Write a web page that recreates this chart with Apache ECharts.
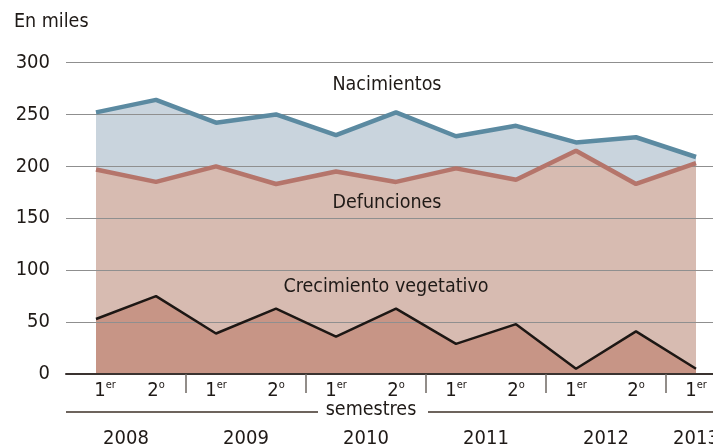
<!DOCTYPE html>
<html>
<head>
<meta charset="utf-8">
<script src="https://cdn.jsdelivr.net/npm/echarts@6/dist/echarts.min.js"></script>
<style>
html,body{margin:0;padding:0;background:#fff;}
#chart{width:713px;height:446px;}
</style>
</head>
<body>
<div id="chart"></div>
<script>
const semesters = ['1er','2º','1er','2º','1er','2º','1er','2º','1er','2º','1er'];
const years = ['2008','2009','2010','2011','2012','2013'];
const yearPositions = [0.5, 2.5, 4.5, 6.5, 8.5, 10];
const yTicks = [0, 50, 100, 150, 200, 250, 300];
const nacimientos = [252, 264, 242, 250, 230, 252, 229, 239, 223, 228, 209];
const defunciones = [197, 185, 200, 183, 195, 185, 198, 187, 215, 183, 203];
const crecimiento = [53, 75, 39, 63, 36, 63, 29, 48, 5, 41, 5];

const FONT = '"DejaVu Sans Condensed", "DejaVu Sans", sans-serif';
const TXT = '#1f1a17';
const WORD = '19.5px ' + FONT;

const chart = echarts.init(document.getElementById('chart'), null, {renderer: 'canvas'});

function areaSeries(name, data, color) {
  return {
    name: name, type: 'line', data: data, symbol: 'none', z: 1,
    lineStyle: {width: 0}, areaStyle: {color: color, opacity: 1},
    silent: true, animation: false
  };
}
function lineSeries(name, data, color, width) {
  return {
    name: name, type: 'line', data: data, symbol: 'none', z: 3,
    lineStyle: {width: width, color: color}, silent: true, animation: false
  };
}

chart.setOption({
  animation: false,
  grid: {left: 66, top: 62.5, right: -13, bottom: 72, outerBoundsMode: 'none', containLabel: false},
  xAxis: [{
    type: 'category', data: semesters, boundaryGap: true, position: 'bottom', z: 4,
    axisLine: {show: true, lineStyle: {color: '#3a3330', width: 2}},
    axisTick: {show: true, length: 19, interval: function (i) { return i > 0 && i % 2 === 0; },
      lineStyle: {color: '#6f6863', width: 1.5}},
    axisLabel: {
      interval: 0, margin: 6,
      formatter: function (v, i) {
        const suf = v.slice(1) === 'º' ? 'o' : v.slice(1);
        return (i === 0 ? '{p|}' : '') + '{n|' + v.charAt(0) + '}{s|' + suf + '}';
      },
      rich: {
        p: {width: 18},
        n: {fontFamily: FONT, fontSize: 20, lineHeight: 22, color: TXT},
        s: {fontFamily: FONT, fontSize: 11, lineHeight: 13, verticalAlign: 'top', color: TXT}
      }
    },
    splitLine: {show: false}
  }, {
    type: 'value', min: -0.5, max: 10.5, position: 'bottom', z: 4,
    axisLine: {show: false}, axisTick: {show: false}, splitLine: {show: false},
    axisLabel: {
      customValues: yearPositions, margin: 55,
      formatter: function (v) { return years[yearPositions.indexOf(v)]; },
      fontFamily: FONT, fontSize: 20, lineHeight: 20, color: TXT
    }
  }],
  yAxis: {
    type: 'value', min: yTicks[0], max: yTicks[yTicks.length - 1], interval: yTicks[1] - yTicks[0], z: 2,
    axisLine: {show: false}, axisTick: {show: false},
    axisLabel: {margin: 16, fontFamily: FONT, fontSize: 20, color: TXT},
    splitLine: {lineStyle: {color: '#8f8f8f', width: 1}}
  },
  series: [
    areaSeries('Nacimientos', nacimientos, '#c9d4dd'),
    areaSeries('Defunciones', defunciones, '#d7bbb1'),
    areaSeries('Crecimiento vegetativo', crecimiento, '#c79586'),
    lineSeries('Nacimientos', nacimientos, '#5b8aa1', 4.5),
    lineSeries('Defunciones', defunciones, '#b5756b', 4.5),
    lineSeries('Crecimiento vegetativo', crecimiento, '#1d1714', 2.5)
  ],
  graphic: [
    {type: 'text', x: 14, y: 22, style: {text: 'En miles', font: WORD, fill: TXT, textVerticalAlign: 'middle'}},
    {type: 'text', x: 387, y: 85, z: 10, style: {text: 'Nacimientos', font: WORD, fill: TXT, textAlign: 'center', textVerticalAlign: 'middle'}},
    {type: 'text', x: 387, y: 203, z: 10, style: {text: 'Defunciones', font: WORD, fill: TXT, textAlign: 'center', textVerticalAlign: 'middle'}},
    {type: 'text', x: 386, y: 287, z: 10, style: {text: 'Crecimiento vegetativo', font: WORD, fill: TXT, textAlign: 'center', textVerticalAlign: 'middle'}},
    {type: 'text', x: 371, y: 410, style: {text: 'semestres', font: WORD, fill: TXT, textAlign: 'center', textVerticalAlign: 'middle'}},
    {type: 'line', shape: {x1: 66, y1: 412, x2: 318, y2: 412}, style: {stroke: '#6d645d', lineWidth: 2}},
    {type: 'line', shape: {x1: 428, y1: 412, x2: 713, y2: 412}, style: {stroke: '#6d645d', lineWidth: 2}}
  ]
});
</script>
</body>
</html>
